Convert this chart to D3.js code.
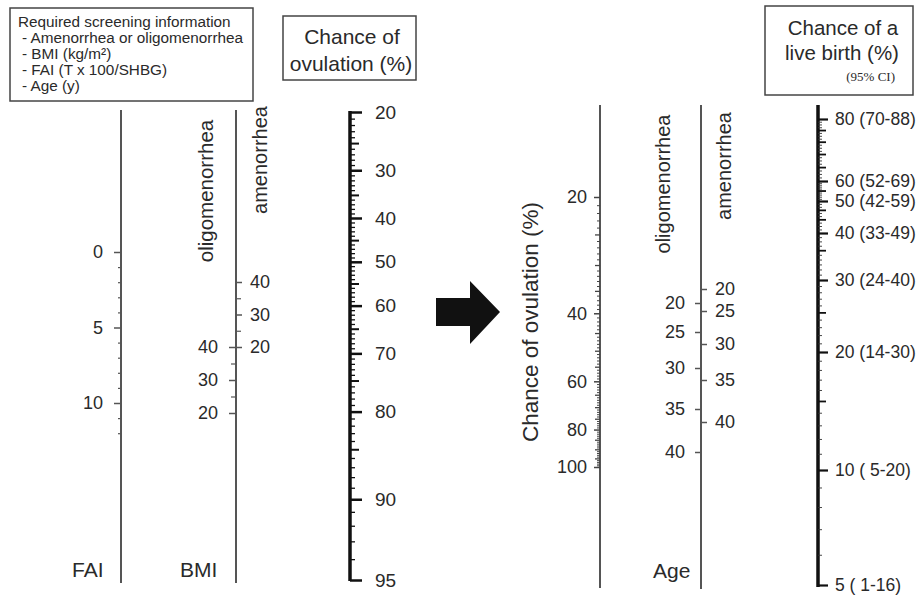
<!DOCTYPE html>
<html>
<head>
<meta charset="utf-8">
<script src="https://cdn.jsdelivr.net/npm/d3@7"></script>
<style>
  body { margin: 0; background: #fff; }
  svg { font-family: "Liberation Sans", Arial, sans-serif; }
</style>
</head>
<body>
<div id="chart"></div>
<script>
const WIDTH = 921;
const HEIGHT = 597;
const INK = '#2a2a2a';

// required screening information
const INFO_LINES = ['Required screening information', '- Amenorrhea or oligomenorrhea', '- BMI (kg/m²)', '- FAI (T x 100/SHBG)', '- Age (y)'];

// FAI scale
const FAI_LABELS = [0, 5, 10];
const FAI_MINOR = [1, 2, 3, 4, 6, 7, 8, 9, 11, 12];

// BMI scales (oligomenorrhea left, amenorrhea right)
const BMI_LABELS = [40, 30, 20];
const BMI_MINOR = [35, 25];

// chance of ovulation (%) – logit scale
const OVU_LABELS = [20, 30, 40, 50, 60, 70, 80, 90, 95];
const OVU_MID = [25, 35, 45, 55, 65, 75, 85];

// chance of ovulation (%) – second nomogram, log scale
const OVU2_LABELS = [20, 40, 60, 80, 100];
const OVU2_MID = [25, 30, 35, 45, 50, 55, 65, 70, 75, 85, 90, 95];

// age (y)
const AGE_VALUES = [20, 25, 30, 35, 40];
const AGE_OLIGO_LABELS = [20, 25, 30, 35, 40];
const AGE_AMEN_LABELS = [20, 25, 30, 35, 40];

// chance of a live birth (%) with 95% CI
const LB_VALUES = [80, 60, 50, 40, 30, 20, 10, 5];
const LB_CI = ['70-88', '52-69', '42-59', '33-49', '24-40', '14-30', ' 5-20', ' 1-16'];
const LB_MID = [76, 72, 68, 64, 55, 47, 44, 36, 25, 15];

const logit = p => Math.log(p / (100 - p));

const svg = d3.select('#chart').append('svg')
  .attr('width', WIDTH)
  .attr('height', HEIGHT);
svg.append('rect').attr('width', WIDTH).attr('height', HEIGHT).attr('fill', '#fff');

// scales
const faiScale = d3.scaleLinear().domain([0, 10]).range([252, 403]);
const bmiOligoScale = d3.scaleLinear().domain([20, 40]).range([413, 347]);
const bmiAmenScale = d3.scaleLinear().domain([20, 40]).range([347, 282]);
const ovuScale = d3.scaleLinear().domain([logit(20), logit(95)]).range([112, 580]);
const ovu2Scale = d3.scaleLog().domain([20, 100]).range([197, 467]);
const ageOligoScale = d3.scaleLinear().domain(AGE_VALUES).range([303, 332, 368, 409, 452]);
const ageAmenScale = d3.scaleLinear().domain(AGE_VALUES).range([289, 311, 344, 380, 422]);
const lbScale = d3.scaleLog().domain([5, 10, 20, 30, 40, 50, 60, 80]).range([585, 470, 352, 280, 233, 201, 181, 119]);

function addAxis(x, axis, opt) {
  const g = svg.append('g')
    .attr('transform', 'translate(' + x + ',0)')
    .call(axis);
  g.attr('font-family', null).attr('font-size', opt.fs || 18);
  g.select('.domain').remove();
  g.selectAll('line').attr('stroke', opt.color || INK).attr('stroke-width', opt.tw || 1.5);
  g.selectAll('text').attr('fill', INK);
  return g;
}

function vline(x, y1, y2, w, color) {
  svg.append('line')
    .attr('x1', x).attr('x2', x)
    .attr('y1', y1).attr('y2', y2)
    .attr('stroke', color)
    .attr('stroke-width', w);
}

function vtext(x, y, txt, fs) {
  svg.append('text')
    .attr('transform', 'translate(' + x + ',' + y + ') rotate(-90)')
    .attr('text-anchor', 'middle')
    .attr('font-size', fs)
    .attr('fill', INK)
    .text(txt);
}

function box(x, y, w, h) {
  svg.append('rect')
    .attr('x', x).attr('y', y)
    .attr('width', w).attr('height', h)
    .attr('fill', 'none')
    .attr('stroke', '#444')
    .attr('stroke-width', 1.5);
}

// info box
box(10, 8, 243, 93);
svg.append('g').selectAll('text')
  .data(INFO_LINES)
  .enter()
  .append('text')
  .attr('x', (d, i) => i === 0 ? 18 : 22)
  .attr('y', (d, i) => 27 + i * 16)
  .attr('font-size', 15.3)
  .attr('fill', INK)
  .text(d => d);

// ovulation title box
box(283, 16, 133, 64);
svg.append('text').attr('x', 352).attr('y', 44).attr('text-anchor', 'middle')
  .attr('font-size', 21).attr('fill', INK).text('Chance of');
svg.append('text').attr('x', 351).attr('y', 71).attr('text-anchor', 'middle')
  .attr('font-size', 21).attr('fill', INK).text('ovulation (%)');

// live birth title box
box(765, 6, 148, 89);
svg.append('text').attr('x', 843).attr('y', 35).attr('text-anchor', 'middle')
  .attr('font-size', 20.5).attr('fill', INK).text('Chance of a');
svg.append('text').attr('x', 842).attr('y', 60).attr('text-anchor', 'middle')
  .attr('font-size', 20.5).attr('fill', INK).text('live birth (%)');
svg.append('text').attr('x', 895).attr('y', 81).attr('text-anchor', 'end')
  .attr('font-size', 13).attr('font-family', '"Liberation Serif", serif').attr('fill', INK).text('(95% CI)');

// FAI axis
vline(121, 110, 583, 2, '#555');
addAxis(121, d3.axisLeft(faiScale).tickValues(FAI_LABELS).tickSize(7).tickPadding(11), { color: '#555' });
addAxis(121, d3.axisLeft(faiScale).tickValues(FAI_MINOR).tickSize(3).tickFormat(''), { color: '#555', tw: 1.2 });
svg.append('text').attr('x', 72).attr('y', 577).attr('font-size', 21).attr('fill', INK).text('FAI');

// BMI axis
vline(236, 110, 583, 2, '#555');
addAxis(236, d3.axisLeft(bmiOligoScale).tickValues(BMI_LABELS).tickSize(7).tickPadding(11), { color: '#555' });
addAxis(236, d3.axisLeft(bmiOligoScale).tickValues(BMI_MINOR).tickSize(5).tickFormat(''), { color: '#555', tw: 1.2 });
addAxis(236, d3.axisRight(bmiAmenScale).tickValues(BMI_LABELS).tickSize(6).tickPadding(8), { color: '#555' });
addAxis(236, d3.axisRight(bmiAmenScale).tickValues(BMI_MINOR).tickSize(5).tickFormat(''), { color: '#555', tw: 1.2 });
svg.append('text').attr('x', 180).attr('y', 577).attr('font-size', 21).attr('fill', INK).text('BMI');
vtext(213, 191, 'oligomenorrhea', 20.5);
vtext(267, 160, 'amenorrhea', 20);

// chance of ovulation axis (logit)
vline(350, 111, 581, 3.5, '#111');
const ovuMinor = d3.range(21, 95).filter(v => v % 5 !== 0);
addAxis(350, d3.axisRight(ovuScale).tickValues(ovuMinor.map(logit)).tickSize(5).tickFormat(''), { color: '#111', tw: 1.3 });
addAxis(350, d3.axisRight(ovuScale).tickValues(OVU_MID.map(logit)).tickSize(9).tickFormat(''), { color: '#111', tw: 2 });
addAxis(350, d3.axisRight(ovuScale).tickValues(OVU_LABELS.map(logit)).tickSize(12).tickPadding(13)
  .tickFormat((d, i) => OVU_LABELS[i]), { color: '#111', tw: 2.5, fs: 19 });

// arrow
svg.append('path')
  .attr('d', 'M436,298 L470,298 L470,281 L500,312 L470,344 L470,326 L436,326 Z')
  .attr('fill', '#111');

// second chance of ovulation axis (log)
vline(600, 105, 588, 2, '#555');
const ovu2Minor = d3.range(21, 100).filter(v => v % 5 !== 0);
addAxis(600, d3.axisLeft(ovu2Scale).tickValues(ovu2Minor).tickSize(3).tickFormat(''), { color: '#444', tw: 1 });
addAxis(600, d3.axisLeft(ovu2Scale).tickValues(OVU2_MID).tickSize(5).tickFormat(''), { color: '#444', tw: 1.3 });
addAxis(600, d3.axisLeft(ovu2Scale).tickValues(OVU2_LABELS).tickSize(6).tickPadding(7).tickFormat(d => d), { color: '#444' });
vtext(538, 322, 'Chance of ovulation (%)', 22.5);

// age axis
vline(701, 105, 589, 2, '#555');
addAxis(701, d3.axisLeft(ageOligoScale).tickValues(AGE_OLIGO_LABELS).tickSize(6).tickPadding(10), { color: '#555' });
addAxis(701, d3.axisRight(ageAmenScale).tickValues(AGE_AMEN_LABELS).tickSize(6).tickPadding(8), { color: '#555' });
vtext(670, 184, 'oligomenorrhea', 20);
vtext(731, 166, 'amenorrhea', 20);
svg.append('text').attr('x', 653).attr('y', 578).attr('font-size', 21).attr('fill', INK).text('Age');

// chance of a live birth axis
vline(818, 105, 587, 3.5, '#111');
const lbMinor = d3.range(6, 80).filter(v => LB_VALUES.indexOf(v) < 0 && LB_MID.indexOf(v) < 0);
addAxis(818, d3.axisRight(lbScale).tickValues(lbMinor).tickSize(4).tickFormat(''), { color: '#333', tw: 0.9 });
addAxis(818, d3.axisRight(lbScale).tickValues(LB_MID).tickSize(8).tickFormat(''), { color: '#111', tw: 1.8 });
const lbAxis = addAxis(818, d3.axisRight(lbScale).tickValues(LB_VALUES).tickSize(10).tickPadding(7)
  .tickFormat((d, i) => LB_VALUES[i] + ' (' + LB_CI[i] + ')'), { color: '#111', tw: 2.2, fs: 17.5 });
lbAxis.selectAll('text').style('white-space', 'pre');
</script>
</body>
</html>
